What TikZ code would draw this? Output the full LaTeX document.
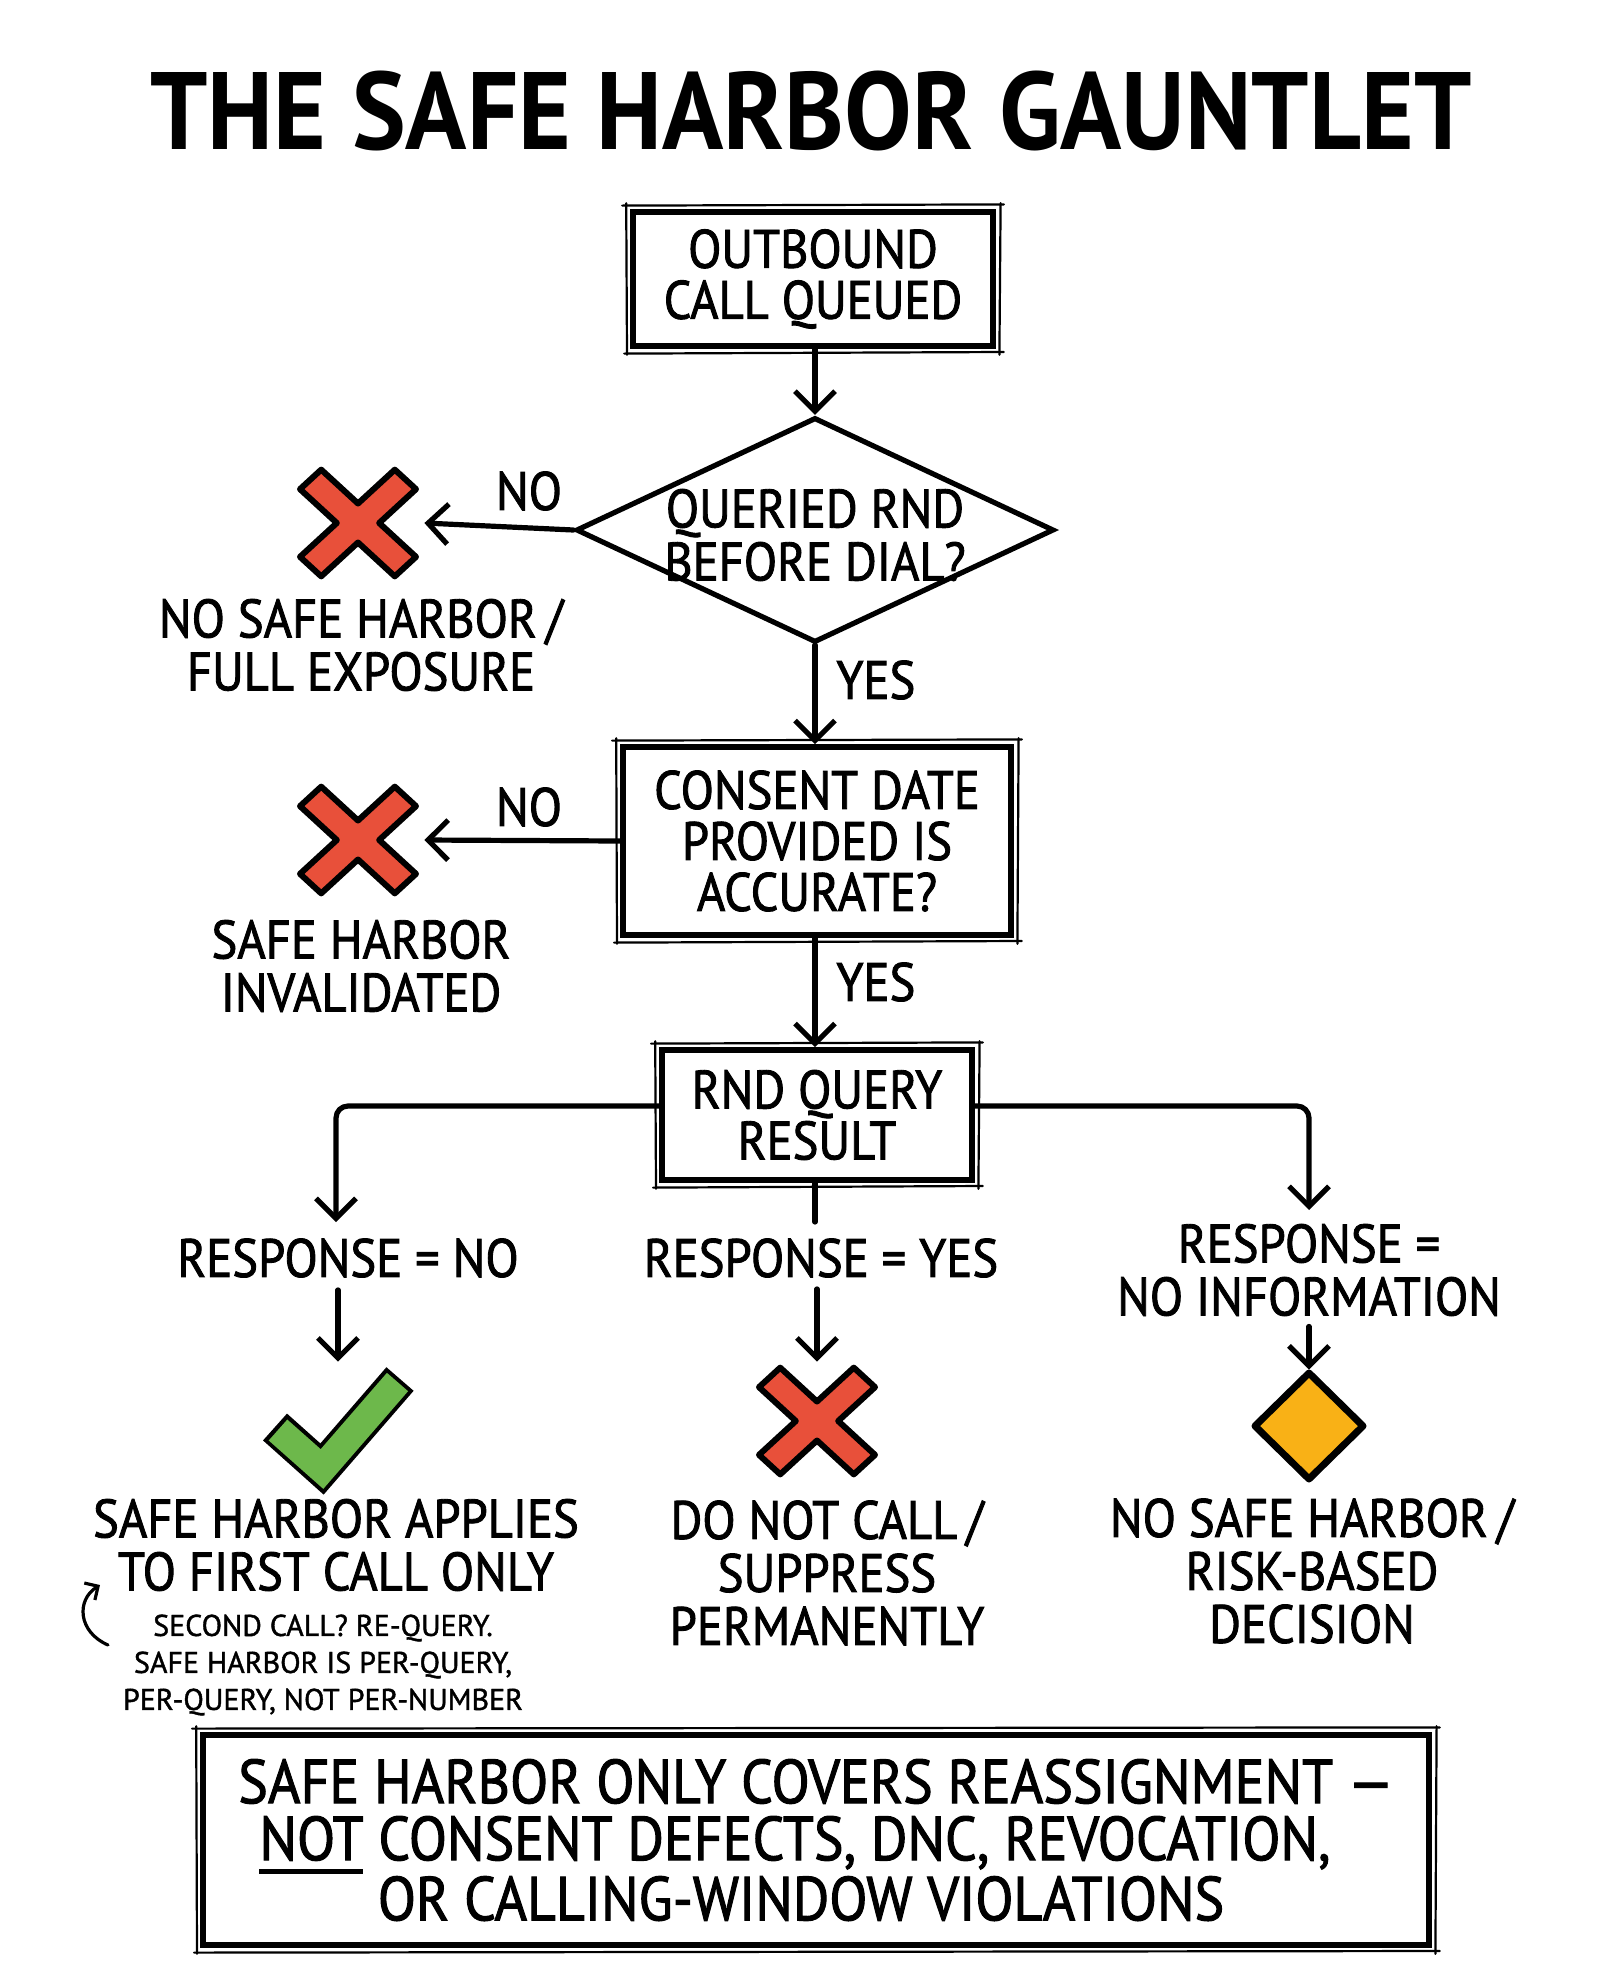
\documentclass[tikz,border=0pt]{standalone}
\usepackage{fontspec}
\setmainfont{PT Sans}[FakeStretch=0.9, FakeBold=1.6]
\newfontfamily\notefont{PT Sans}[FakeBold=1.3]
\newfontfamily\titlefont{PT Sans Bold}[FakeStretch=0.92]
\usetikzlibrary{arrows.meta,shapes.geometric,calc}

\definecolor{xred}{HTML}{E8503A}
\definecolor{cgreen}{HTML}{6DB84B}
\definecolor{dorange}{HTML}{F9B116}

\newcommand\ulnot{\setbox0\hbox{NOT}\rlap{\rule[-7pt]{\wd0}{2.8pt}}\box0}
\newcommand\skbox[1]{%
  \draw[skl] ([shift={(-4pt,1.8pt)}]#1.north west) -- ([shift={(4pt,2.4pt)}]#1.north east);
  \draw[skl] ([shift={(2.4pt,3pt)}]#1.north east) -- ([shift={(1.8pt,-3pt)}]#1.south east);
  \draw[skl] ([shift={(-3pt,-2.4pt)}]#1.south west) -- ([shift={(4pt,-1.6pt)}]#1.south east);
  \draw[skl] ([shift={(-2pt,3pt)}]#1.north west) -- ([shift={(-1.6pt,-3pt)}]#1.south west);}

\tikzset{
  box/.style={draw, line width=2.8pt, align=center, inner sep=0pt, fill=white,
    font=\fontsize{27}{25.5}\selectfont},
  lbl/.style={align=center, inner sep=0pt, font=\fontsize{27}{26.5}\selectfont},
  flow/.style={line width=2.6pt, line cap=round, line join=round,
    -{Straight Barb[length=10pt,width=20pt]}},
  plain/.style={line width=2.6pt, line cap=round},
  skl/.style={line width=1.1pt, line cap=round},
  anchorbox/.style={inner sep=0pt, minimum size=#1},
  xmark/.pic={\draw[line width=3pt, line join=round, fill=xred, yscale=0.92]
    (21.2,0) -- (58,36.8) -- (36.8,58) -- (0,21.2) -- (-36.8,58) -- (-58,36.8)
    -- (-21.2,0) -- (-58,-36.8) -- (-36.8,-58) -- (0,-21.2) -- (36.8,-58)
    -- (58,-36.8) -- cycle;},
  checkmark/.pic={
    \draw[line width=18pt, line join=miter, line cap=butt] (-63,2) -- (-16,44) -- (62,-46);
    \draw[cgreen, line width=14pt, line join=miter, line cap=butt] (-60,5) -- (-16,44) -- (59.5,-43);},
  warnmark/.pic={\draw[line width=3.5pt, fill=dorange, line join=round]
    (0,-53) -- (54,0) -- (0,53) -- (-54,0) -- cycle;}
}

\begin{document}
\begin{tikzpicture}[x=0.5pt,y=-0.5pt]
\useasboundingbox (0,0) rectangle (1600,1986);
\fill[white] (0,0) rectangle (1600,1986);

% title
\node[inner sep=0pt, font=\titlefont\fontsize{55}{55}\selectfont] (title) at (811,111) {THE SAFE HARBOR GAUNTLET};

% main column
\node[box, minimum width=180pt, minimum height=67pt] (b1) at (813,279) {OUTBOUND\\CALL QUEUED};
\node[diamond, draw, line width=2.6pt, minimum width=239pt, minimum height=112.5pt, inner sep=0pt] (d1) at (815,530) {};
\node[lbl] (d1t) at (815,535) {QUERIED RND\\BEFORE DIAL?};
\node[box, minimum width=194pt, minimum height=94pt] (b2) at (817,841) {CONSENT DATE\\PROVIDED IS\\ACCURATE?};
\node[box, minimum width=155pt, minimum height=65pt] (b3) at (817,1115) {RND QUERY\\RESULT};
\skbox{b1}
\skbox{b2}
\skbox{b3}

% left icons
\node[anchorbox=66pt] (x1) at (358,523) {};
\pic at (x1) {xmark};
\node[anchorbox=66pt] (x2) at (358,840) {};
\pic at (x2) {xmark};
\node[lbl] (t1) at (361,645) {NO SAFE HARBOR\,/\\FULL EXPOSURE};
\node[lbl] (t2) at (361,966) {SAFE HARBOR\\INVALIDATED};

\node[lbl] (no1) at (529,491) {NO};
\node[lbl] (no2) at (529,807) {NO};
\node[lbl, anchor=west] (yes1) at (836,680) {YES};
\node[lbl, anchor=west] (yes2) at (836,982) {YES};

\draw[flow] (b1.south -| d1.north) -- (d1.north);
\draw[flow] (d1.south) -- (b2.north -| d1.south);
\draw[flow] (b2.south -| d1.south) -- (b3.north -| d1.south);
\draw[flow] (d1.west) -- (x1.east);
\draw[flow] (b2.west) -- (x2.east);

% branches
\node[lbl] (r1) at (348,1258) {RESPONSE = NO};
\node[lbl] (r2) at (821,1258) {RESPONSE = YES};
\node[lbl] (r3) at (1309,1270) {RESPONSE =\\NO INFORMATION};
\coordinate (bl) at (336,1222);
\coordinate (br) at (1309,1210);
\coordinate (bm) at (815,1222);
\draw[flow, rounded corners=6pt] ($(b3.west)+(0,-9)$) -| (bl);
\draw[flow, rounded corners=6pt] ($(b3.east)+(0,-9)$) -| (br);
\draw[plain] (b3.south -| bm) -- (bm);

% outcome icons
\node[anchorbox=63pt] (ck) at (338,1425) {};
\pic at (ck) {checkmark};
\node[anchorbox=59pt] (x3) at (817,1421) {};
\pic at (x3) {xmark};
\node[anchorbox=56pt] (dm) at (1309,1426) {};
\pic at (dm) {warnmark};

\draw[flow, shorten <=6pt] (r1.south -| ck.north) -- (ck.north);
\draw[flow, shorten <=5.5pt] (r2.south -| x3.north) -- (x3.north);
\draw[flow, shorten <=5pt] (r3.south -| dm.north) -- (dm.north);

% outcome texts
\node[lbl] (t3) at (336,1545) {SAFE HARBOR APPLIES\\TO FIRST CALL ONLY};
\node[lbl] (t4) at (827,1573) {DO NOT CALL\,/\\SUPPRESS\\PERMANENTLY};
\node[lbl] (t5) at (1312,1571) {NO SAFE HARBOR\,/\\RISK-BASED\\DECISION};
\node[align=center, inner sep=0pt, font=\notefont\fontsize{15}{18.5}\selectfont] (note) at (323,1665)
  {SECOND CALL? RE-QUERY.\\SAFE HARBOR IS PER-QUERY,\\PER-QUERY, NOT PER-NUMBER};
\coordinate (ca) at (108,1645);
\coordinate (cb) at (100,1585);
\draw[line width=1.6pt, line cap=round, -{Straight Barb[length=5pt,width=10pt]}]
  (ca) .. controls (78,1632) and (76,1600) .. (cb);

% bottom box
\node[box, minimum width=613pt, minimum height=105pt, font=\fontsize{31}{28.5}\selectfont] (bb) at (816,1840)
  {SAFE HARBOR ONLY COVERS REASSIGNMENT —\\\ulnot{} CONSENT DEFECTS, DNC, REVOCATION,\kern21pt\null\\OR CALLING-WINDOW VIOLATIONS\hspace*{15pt}};
\skbox{bb}
\end{tikzpicture}
\end{document}
